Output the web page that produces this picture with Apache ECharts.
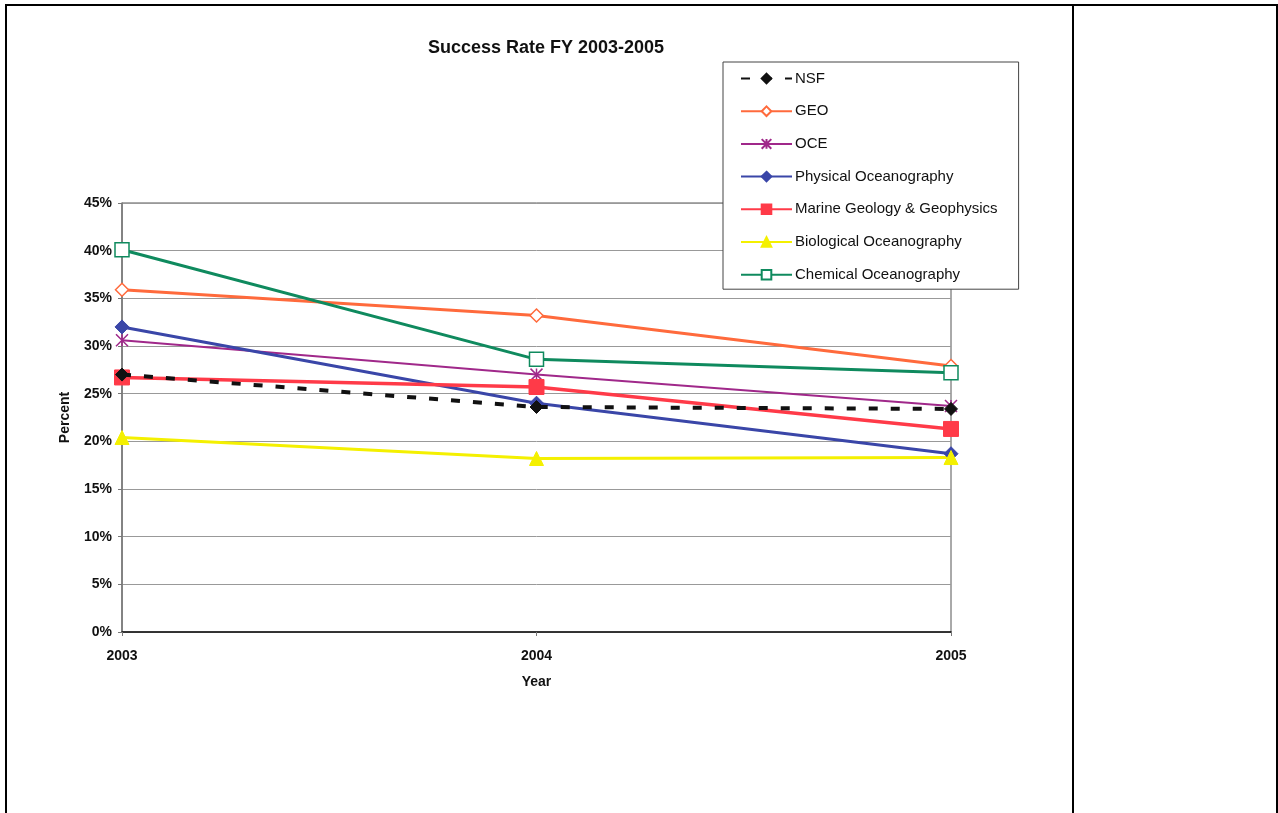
<!DOCTYPE html>
<html>
<head>
<meta charset="utf-8">
<script src="https://cdn.jsdelivr.net/npm/echarts@6/dist/echarts.min.js"></script>
<style>
  html, body { margin: 0; padding: 0; background: #fff; }
  #chart { width: 1278px; height: 813px; }
</style>
</head>
<body>
<div id="chart"></div>
<script>
// Fiscal years on the horizontal axis
const years = ['2003', '2004', '2005'];

// Success rates (percent) per program
const nsf = [27.0, 23.6, 23.4];
const geo = [35.9, 33.2, 27.9];
const oce = [30.6, 27.0, 23.7];
const physicalOcean = [32.0, 24.0, 18.7];
const marineGeo = [26.7, 25.7, 21.3];
const biologicalOcean = [20.4, 18.2, 18.3];
const chemicalOcean = [40.1, 28.6, 27.2];

const FONT = '"Liberation Sans", Arial, sans-serif';

const chart = echarts.init(document.getElementById('chart'), null, { renderer: 'canvas' });

function lineSeries(name, data, color, symbol, opts) {
  opts = opts || {};
  return {
    name: name,
    type: 'line',
    data: data,
    symbol: symbol,
    symbolSize: opts.symbolSize || 12,
    showSymbol: true,
    lineStyle: { color: color, width: opts.width || 3, type: opts.type || 'solid' },
    itemStyle: {
      color: opts.fill || color,
      borderColor: opts.border || color,
      borderWidth: opts.borderWidth || 1
    },
    z: opts.z || 2,
    animation: false
  };
}

const option = {
  backgroundColor: '#fff',
  animation: false,
  title: {
    text: 'Success Rate FY 2003-2005',
    left: 541,
    top: 34,
    textAlign: 'center',
    textStyle: { fontFamily: FONT, fontSize: 18, fontWeight: 'bold', color: '#111' }
  },
  legend: {
    orient: 'vertical',
    left: 723,
    top: 62,
    padding: [9, 21, 7, 17],
    backgroundColor: '#fff',
    borderColor: '#444',
    borderWidth: 1,
    itemWidth: 51,
    itemHeight: 12,
    itemGap: 17.7,
    textStyle: { fontFamily: FONT, fontSize: 15, color: '#111', padding: [0, 0, 0, -2] },
    data: ['NSF', 'GEO', 'OCE', 'Physical Oceanography', 'Marine Geology & Geophysics',
           'Biological Oceanography', 'Chemical Oceanography'],
    z: 10
  },
  grid: {
    left: 122,
    right: 327,
    top: 203,
    bottom: 181,
    show: true,
    borderColor: '#555',
    borderWidth: 1,
    backgroundColor: 'transparent'
  },
  xAxis: {
    type: 'category',
    data: years,
    boundaryGap: false,
    name: 'Year',
    nameLocation: 'middle',
    nameGap: 43,
    nameTextStyle: { fontFamily: FONT, fontSize: 14, fontWeight: 'bold', color: '#111' },
    axisLine: { lineStyle: { color: '#111', width: 1.5 } },
    axisTick: { show: true, length: 4, lineStyle: { color: '#777' } },
    axisLabel: { fontFamily: FONT, fontSize: 14, fontWeight: 'bold', color: '#111', margin: 17 },
    splitLine: { show: false }
  },
  yAxis: {
    type: 'value',
    min: 0,
    max: 45,
    interval: 5,
    name: 'Percent',
    nameLocation: 'middle',
    nameGap: 50,
    nameTextStyle: { fontFamily: FONT, fontSize: 14, fontWeight: 'bold', color: '#111' },
    axisLine: { show: true, lineStyle: { color: '#777', width: 1.5 } },
    axisTick: { show: true, length: 4, lineStyle: { color: '#777' } },
    axisLabel: {
      formatter: '{value}%',
      fontFamily: FONT, fontSize: 14, fontWeight: 'bold', color: '#111', margin: 10
    },
    splitLine: { show: true, lineStyle: { color: '#999', width: 1 } }
  },
  series: [
    lineSeries('NSF', nsf, '#111', 'diamond', { type: [9, 13], width: 4, z: 3, symbolSize: 13 }),
    lineSeries('GEO', geo, '#ff6a3c', 'diamond', { fill: '#fff', borderWidth: 1.5, symbolSize: 13 }),
    lineSeries('OCE', oce, '#a0288a', 'path://M0,0L10,10M10,0L0,10M5,0L5,10', { width: 2, borderWidth: 1.5, symbolSize: 12 }),
    lineSeries('Physical Oceanography', physicalOcean, '#3a46a8', 'diamond', { symbolSize: 14 }),
    lineSeries('Marine Geology & Geophysics', marineGeo, '#ff3a48', 'rect', { width: 3.5, symbolSize: 15 }),
    lineSeries('Biological Oceanography', biologicalOcean, '#f4f000', 'triangle', { symbolSize: 14 }),
    lineSeries('Chemical Oceanography', chemicalOcean, '#0f8a5e', 'rect', { fill: '#fff', borderWidth: 1.5, symbolSize: 14 })
  ],
  graphic: [
    { type: 'line', shape: { x1: 5, y1: 5, x2: 1278, y2: 5 }, style: { stroke: '#000', lineWidth: 2 }, z: 100 },
    { type: 'line', shape: { x1: 6, y1: 4, x2: 6, y2: 813 }, style: { stroke: '#000', lineWidth: 2 }, z: 100 },
    { type: 'line', shape: { x1: 1073, y1: 4, x2: 1073, y2: 813 }, style: { stroke: '#000', lineWidth: 2 }, z: 100 },
    { type: 'line', shape: { x1: 1277, y1: 4, x2: 1277, y2: 813 }, style: { stroke: '#000', lineWidth: 2 }, z: 100 }
  ]
};

chart.setOption(option);
</script>
</body>
</html>
